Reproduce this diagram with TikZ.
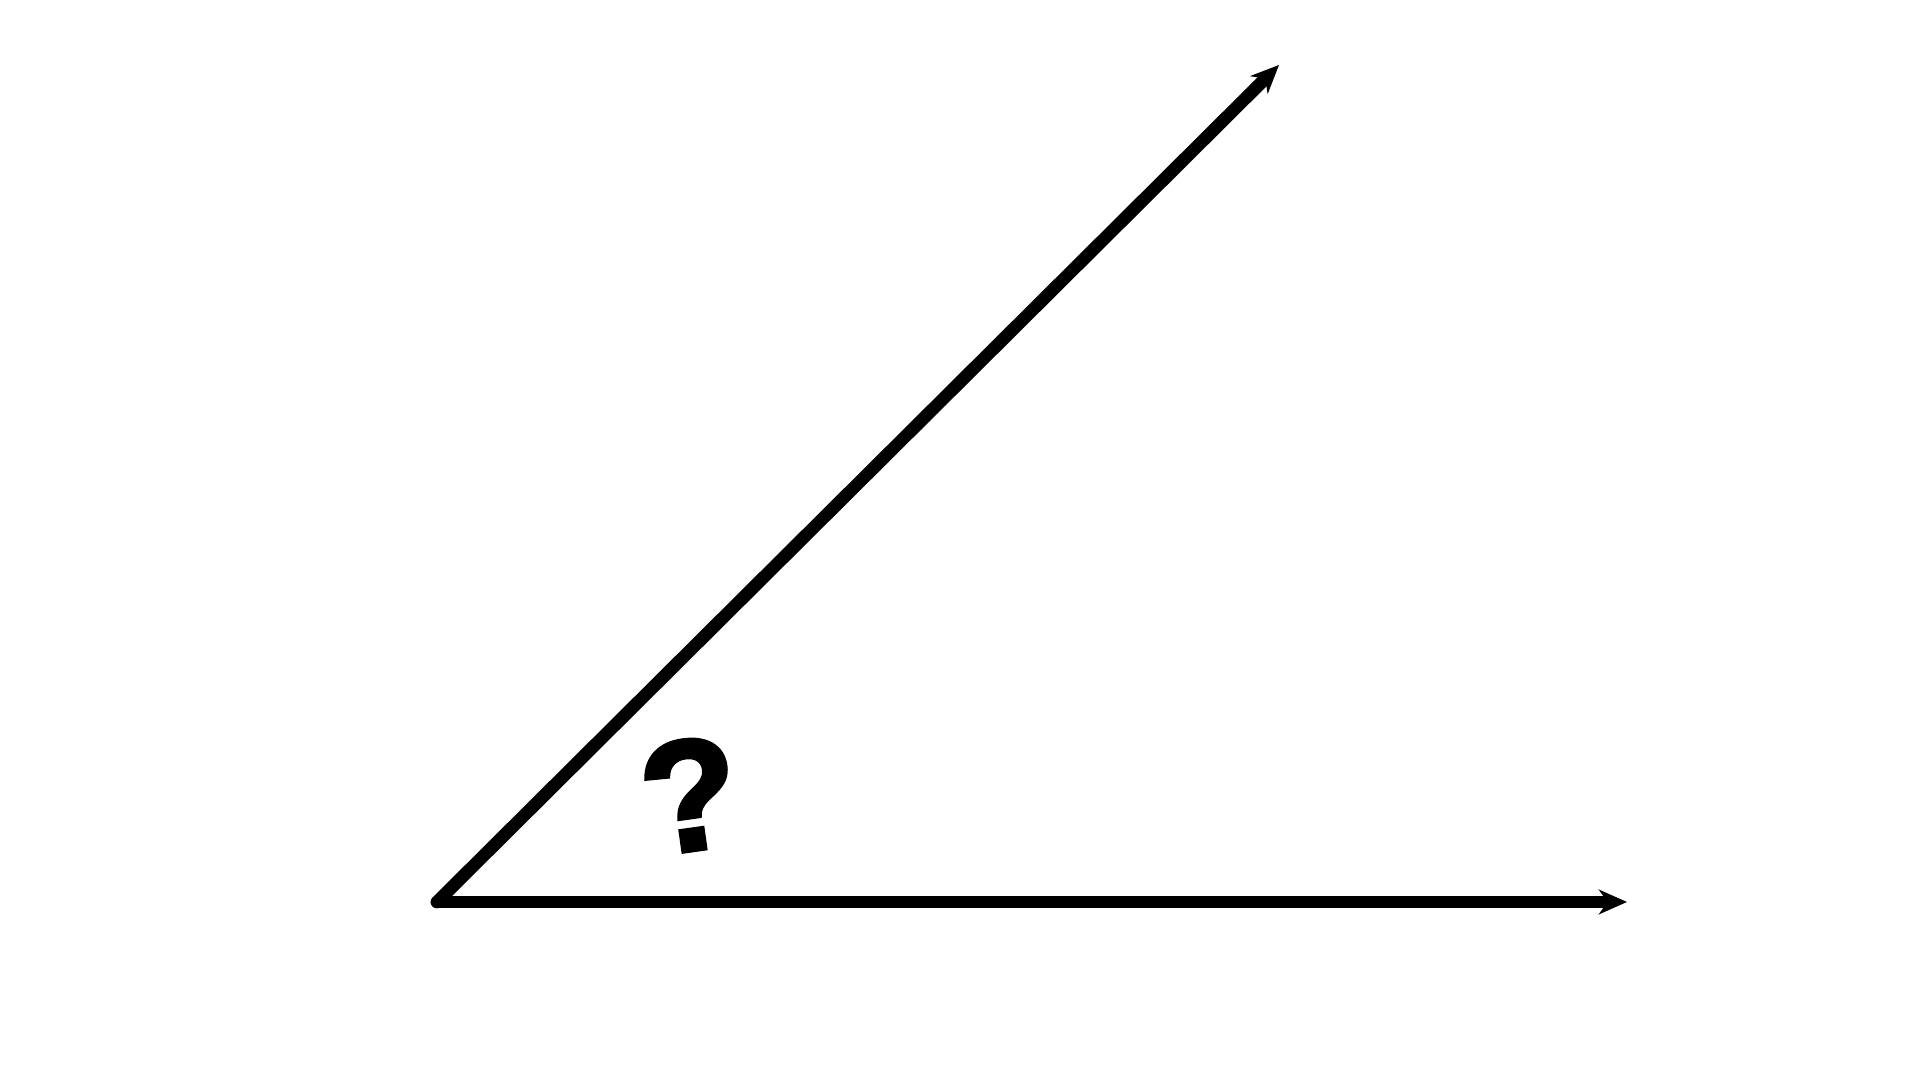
\documentclass[tikz,border=0pt]{standalone}
\usepackage{fontspec}
\newfontfamily\qfont[BoldFeatures={FakeBold=2.5}]{Liberation Sans}
\usetikzlibrary{arrows.meta}

\begin{document}
\begin{tikzpicture}[ray/.style={line width=3.6pt,line cap=round,-{Stealth[length=8pt,width=7pt,inset=2.5pt]}}]
\useasboundingbox (0,0) rectangle (19.2,10.8);
\coordinate (o) at (4.37,1.78);
\coordinate (a) at (16.27,1.78);
\coordinate (b) at (12.79,10.15);
\draw [ray] (o) -- (a);
\draw [ray] (o) -- (b);
\node [rotate=8,font=\qfont\fontsize{45}{45}\selectfont\bfseries] (q) at (6.9,2.85) {?};
\end{tikzpicture}
\end{document}
